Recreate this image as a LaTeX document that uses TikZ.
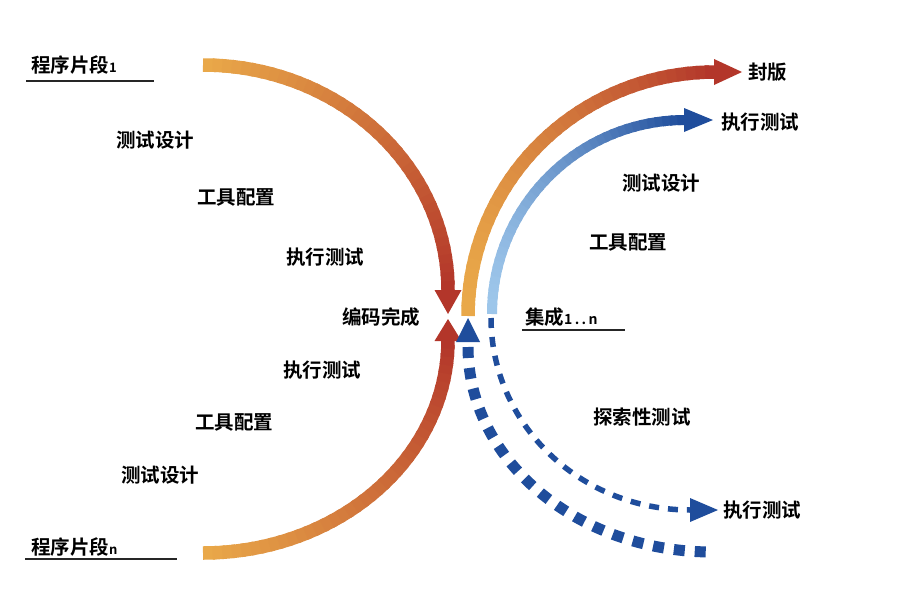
\documentclass[tikz,border=0pt]{standalone}
\usepackage{fontspec}
\newfontfamily\cjkb{Noto Sans CJK SC Bold}
\definecolor{cOrange}{HTML}{E9A849}
\definecolor{cRed}{HTML}{B3362A}
\definecolor{cLightBlue}{HTML}{9DC6EA}
\definecolor{cDarkBlue}{HTML}{1F4D9C}
% #1 cx, #2 cy, #3 rx, #4 ry, #5 t0, #6 t1, #7 start colour, #8 end colour, #9 width
% \gradexp sets how late the colour change happens
\def\gradexp{1}
\newcommand{\gradarc}[9]{%
  \foreach \i in {0,...,39}{%
    \pgfmathsetmacro{\ta}{#5+(#6-#5)*\i/40}%
    \pgfmathsetmacro{\tb}{#5+(#6-#5)*min(\i+1.4,40)/40}%
    \pgfmathsetmacro{\pc}{100-100*(\i/39)^\gradexp}%
    \draw[line width=#9, color=#7!\pc!#8] plot[domain=\ta:\tb, samples=5, variable=\t] ({#1+#3*cos(\t)},{#2+#4*sin(\t)});
  }}
\tikzset{
  lbl/.style={font=\cjkb\fontsize{19.5}{21}\selectfont, inner sep=0pt, text=black},
  uline/.style={line width=2.2pt, black!85},
}
\begin{document}
\begin{tikzpicture}[x=1pt,y=-1pt]
\fill[white] (0,0) rectangle (916,592);
\useasboundingbox (0,0) rectangle (916,592);

% left upper arc (segment 1 -> coding complete)
\gradarc{203}{290}{245}{225}{-90}{0}{cOrange}{cRed}{13.5pt}
\coordinate (ltip) at (448,314);
\fill[cRed] (434.5,290) -- (461.5,290) -- (ltip) -- cycle;

% left lower arc (segment n -> coding complete)
\gradarc{203}{340}{245}{213}{90}{0}{cOrange}{cRed}{13.5pt}
\coordinate (lbtip) at (448,319);
\fill[cRed] (434.5,341) -- (461.5,341) -- (lbtip) -- cycle;

% right orange arc to release
\def\gradexp{1.6}
\gradarc{715}{316}{247}{244}{180}{270}{cOrange}{cRed}{13.5pt}
\coordinate (fbtip) at (742,72);
\fill[cRed] (714,59) -- (714,85) -- (fbtip) -- cycle;

% right blue arc to test execution
\gradarc{685}{314}{193}{194}{180}{270}{cLightBlue}{cDarkBlue}{10pt}
\coordinate (r1tip) at (713,120);
\fill[cDarkBlue] (684,108) -- (684,132) -- (r1tip) -- cycle;

% blue triangle
\coordinate (btip) at (468,318);
\fill[cDarkBlue] (btip) -- (456,342) -- (480,342) -- cycle;

% outer dashed arc
\draw[cDarkBlue, line width=11pt, dash pattern=on 11pt off 10pt]
  plot[domain=180:90, samples=80, variable=\t] ({712+244*cos(\t)},{347+205*sin(\t)});

% inner dashed arc with arrow
\draw[cDarkBlue, line width=5.5pt, dash pattern=on 10pt off 9pt]
  plot[domain=180:90, samples=80, variable=\t] ({690+199*cos(\t)},{318+192*sin(\t)});
\coordinate (r4tip) at (718,510);
\fill[cDarkBlue] (690,498) -- (690,522) -- (r4tip) -- cycle;

% labels
\node[lbl, anchor=west] (t1) at (31,65) {程序片段{\fontsize{13}{13}\selectfont 1}};
\draw[uline] (26,81) -- (154,81);
\node[lbl] (a1) at (155,140) {测试设计};
\node[lbl] (a2) at (236,197) {工具配置};
\node[lbl] (a3) at (325,257) {执行测试};
\node[lbl] (done) at (381,317) {编码完成};
\node[lbl] (b3) at (322,370) {执行测试};
\node[lbl] (b2) at (234,422) {工具配置};
\node[lbl] (b1) at (160,475) {测试设计};
\node[lbl, anchor=west] (tn) at (31,547) {程序片段{\fontsize{13}{13}\selectfont n}};
\draw[uline] (25,559) -- (177,559);

\node[lbl, anchor=west] (fb) at (748,72) {封版};
\node[lbl, anchor=west] (r1) at (721,122) {执行测试};
\node[lbl] (r2) at (661,183) {测试设计};
\node[lbl] (r3) at (628,242) {工具配置};
\node[lbl, anchor=west] (jc) at (525,317) {集成{\fontsize{14}{14}\selectfont 1\,.\,.\,n}};
\draw[uline] (522,330) -- (625,330);
\node[lbl] (ts) at (642,417) {探索性测试};
\node[lbl, anchor=west] (r4) at (723,510) {执行测试};
\end{tikzpicture}
\end{document}
